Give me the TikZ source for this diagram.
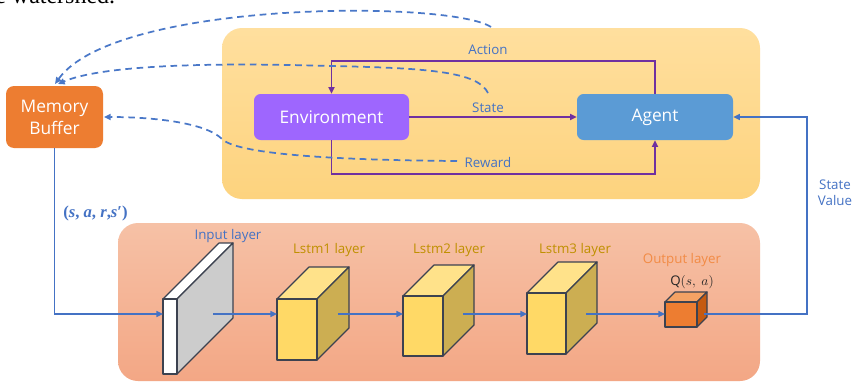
\documentclass[tikz,border=0pt]{standalone}
\usepackage{fontspec}
\setmainfont{Open Sans}
\newfontfamily\bodyserif{Liberation Serif}
\usepackage{amsmath}
\usetikzlibrary{arrows.meta}

\definecolor{envtop}{HTML}{FFDF9E}
\definecolor{envbot}{HTML}{FDD37E}
\definecolor{nettop}{HTML}{F6C1A6}
\definecolor{netbot}{HTML}{F3A785}
\definecolor{memfill}{HTML}{ED7D31}
\definecolor{envfill}{HTML}{9E66FE}
\definecolor{agentfill}{HTML}{5B9BD5}
\definecolor{ctrlline}{HTML}{7030A0}
\definecolor{flowline}{HTML}{4472C4}
\definecolor{dashline}{HTML}{4A78C8}
\definecolor{lbltext}{HTML}{4472C4}
\definecolor{lstmtext}{HTML}{BF9000}
\definecolor{outtext}{HTML}{F28B45}
\definecolor{edgecol}{HTML}{3C4250}
\definecolor{cubefront}{HTML}{FFD966}
\definecolor{cubetop}{HTML}{FFE28A}
\definecolor{cubeside}{HTML}{CCAE52}
\definecolor{slabside}{HTML}{CCCCCC}
\definecolor{outfront}{HTML}{ED7D31}
\definecolor{outtop}{HTML}{F4A264}
\definecolor{outside}{HTML}{C55A11}

\def\flowy{314}

% one 3-D layer block: name, x, y (top of front face), width, height, depth, front, top, side
\newcommand\layercube[9]{%
  \filldraw[cubeedge, fill=#8] (#2,#3) -- ++(#6,-#6) -- ++(#4,0) -- ++(-#6,#6) -- cycle;
  \filldraw[cubeedge, fill=#9] (#2+#4,#3) -- ++(#6,-#6) -- ++(0,#5) -- ++(-#6,#6) -- cycle;
  \filldraw[cubeedge, fill=#7] (#2,#3) rectangle ++(#4,#5);
  \coordinate (#1-in) at (#2,\flowy);
  \coordinate (#1-out) at (#2+#4+0.65*#6,\flowy);
}
% italic letter inside the bold upright tuple
\newcommand\tv[1]{\textit{#1}}

\begin{document}
\begin{tikzpicture}[x=0.75pt, y=-0.75pt,
  tip/.style={-{Triangle[length=5pt,width=4.5pt]}},
  box/.style={rounded corners=5pt, text=white, inner sep=0pt,
    font=\fontsize{13}{16.5}\selectfont, align=center},
  lbl/.style={text=lbltext, font=\fontsize{10}{12}\selectfont, inner sep=0pt, anchor=base},
  lstmlbl/.style={lbl, text=lstmtext},
  ctrl/.style={draw=ctrlline, line width=1.4pt, tip},
  flow/.style={draw=flowline, line width=1.1pt, tip},
  memlink/.style={draw=dashline, line width=1.3pt, dash pattern=on 5pt off 3.5pt, tip},
  cubeedge/.style={draw=edgecol, line width=0.9pt, line join=round}]

\clip (0,0) rectangle (854,382);
\fill[white] (0,0) rectangle (854,382);

% tail of the preceding text line
\node[anchor=base west, inner sep=0pt, font=\bodyserif\fontsize{18}{20}\selectfont] (prevline) at (-5,3) {e watershed.};

% panels
\shade[top color=envtop, bottom color=envbot, rounded corners=15pt] (222,28) rectangle (760,199);
\shade[top color=nettop, bottom color=netbot, rounded corners=15pt] (118,223) rectangle (760,381);

% main blocks
\node[box, fill=memfill, minimum width=72.75pt, minimum height=46.5pt, rounded corners=6pt] (mem) at (54.5,117) {Memory\\Buffer};
\node[box, fill=envfill, minimum width=116.25pt, minimum height=34.5pt] (env) at (331.5,117) {Environment};
\node[box, fill=agentfill, minimum width=117pt, minimum height=34.5pt] (agent) at (655,117) {Agent};

% agent / environment loop
\draw[ctrl] (agent.north) -- ++(0,-33) -| (env.north);
\draw[ctrl] (env.east) -- (agent.west);
\draw[ctrl] (env.south) -- ++(0,34) -| (agent.south);
\node[lbl] (actionlbl) at (488,54) {Action};
\node[lbl] (statelbl) at (488,112) {State};
\node[lbl] (rewardlbl) at (488,167) {Reward};

% transitions stored in the replay memory
\coordinate (actsrc) at (491,27);
\coordinate (statesrc) at (488,93);
\coordinate (rewsrc) at (457,161);
\coordinate (memtop1) at (55,84);
\coordinate (memtop2) at (58,84);
\coordinate (memside) at (104,117);
\draw[memlink] (actsrc) .. controls (450,0) and (115,0) .. (memtop1);
\draw[memlink] (statesrc) .. controls (478,72) and (430,68) .. (330,66)
  .. controls (200,62) and (100,66) .. (memtop2);
\draw[memlink] (rewsrc) .. controls (320,160) and (236,153) .. (222,139)
  .. controls (205,122) and (150,117) .. (memside);

% network layers
\layercube{inp}{163}{299}{14}{75}{56}{white}{white}{slabside}
\layercube{lstma}{277}{299}{40}{61}{32}{cubefront}{cubetop}{cubeside}
\layercube{lstmb}{403}{296}{40}{60}{31}{cubefront}{cubetop}{cubeside}
\layercube{lstmc}{527}{293}{39}{61}{31}{cubefront}{cubetop}{cubeside}
\layercube{outl}{665}{302}{32}{25}{10}{outfront}{outtop}{outside}

\node[lbl] (inplbl) at (228,239) {Input layer};
\node[lstmlbl] (lstmalbl) at (329,253) {Lstm1 layer};
\node[lstmlbl] (lstmblbl) at (449,253) {Lstm2 layer};
\node[lstmlbl] (lstmclbl) at (575,253) {Lstm3 layer};
\node[lbl, text=outtext] (outlbl) at (682,263) {Output layer};
\node[lbl, text=black!85] (qlbl) at (692,285) {Q$(s,\ a)$};

% data flow through the network
\draw[flow] (mem.south) |- (inp-in);
\draw[flow] (inp-out) -- (lstma-in);
\draw[flow] (lstma-out) -- (lstmb-in);
\draw[flow] (lstmb-out) -- (lstmc-in);
\draw[flow] (lstmc-out) -- (outl-in);
\coordinate (svturn) at (807,0);
\draw[flow] (outl-out) -| (svturn |- agent.east) -- (agent.east);

\node[lbl, anchor=base west, text=lbltext, font=\bodyserif\bfseries\fontsize{12.5}{14}\selectfont] (tuplelbl) at (63,217) {(\tv{s}, \tv{a}, \tv{r},\tv{s}′)};
\node[lbl, align=center, anchor=north] (svlbl) at (835,180) {State\\Value};

\end{tikzpicture}
\end{document}
